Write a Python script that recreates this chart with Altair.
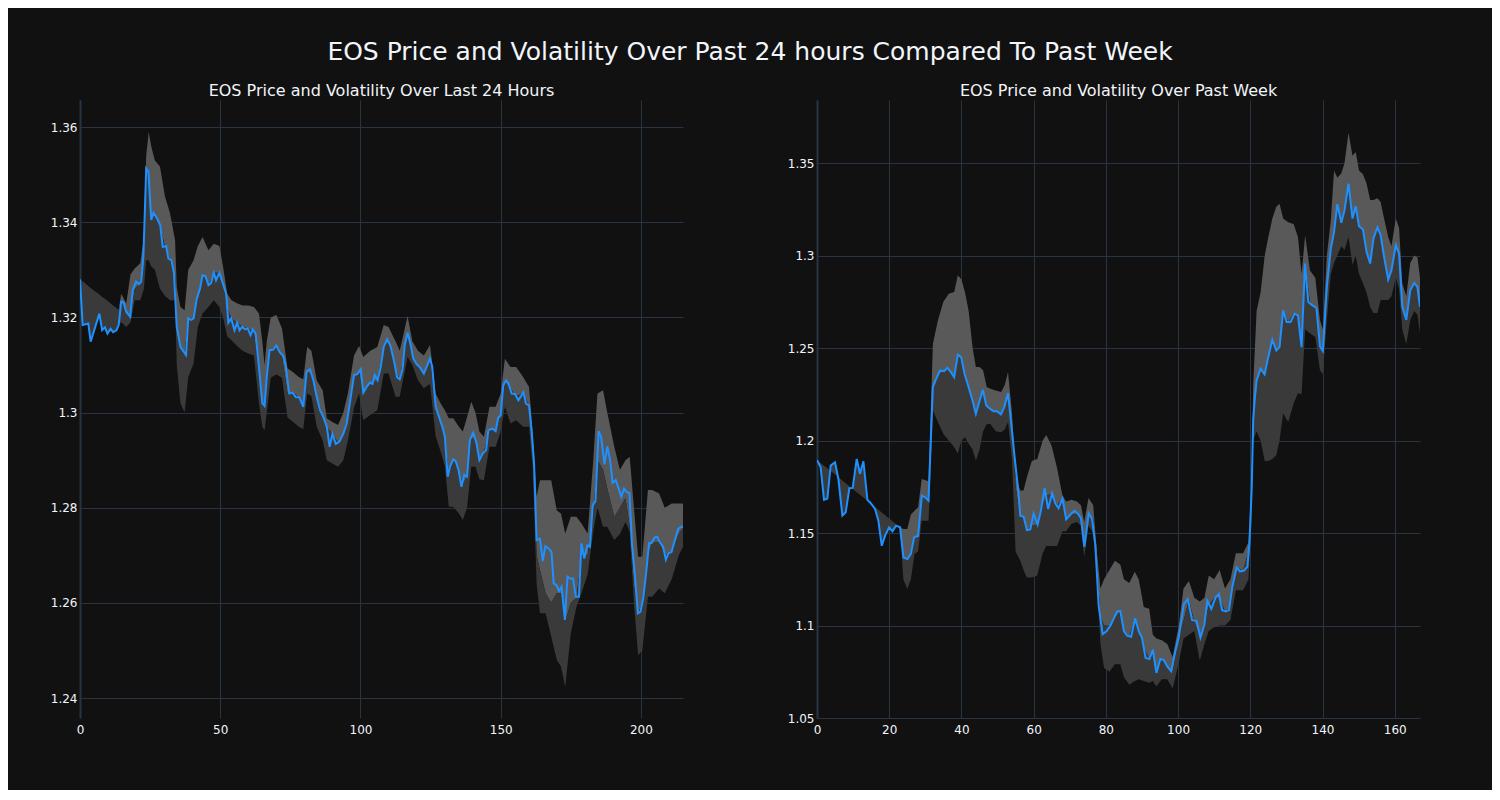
import altair as alt
import pandas as pd

MAIN_TITLE = "EOS Price and Volatility Over Past 24 hours Compared To Past Week"
LEFT_TITLE = "EOS Price and Volatility Over Last 24 Hours"
RIGHT_TITLE = "EOS Price and Volatility Over Past Week"

# ---------------- Left panel (last 24 hours) ----------------
L_PX = [0, 0.95, 2.97, 3.8, 6.9, 7.9, 8.9, 9.8, 10.9, 11.8, 13.0, 13.8, 14.7, 15.5, 16.5, 17.9, 18.8,
        20.0, 21.0, 21.8, 22.6, 23.6, 24.4, 25.4, 26.2, 27.4, 28.6, 29.5, 30.7, 31.5, 32.6, 33.5, 34.5,
        35.8, 37.8, 38.6, 39.6, 40.5, 41.6, 42.8, 43.7, 44.7, 45.8, 46.7, 47.7, 48.5, 49.7, 50.9, 52.1,
        52.9, 53.9, 55.1, 56.0, 56.9, 57.8, 58.9, 59.8, 60.8, 61.6, 62.6, 63.8, 65.0, 65.8, 66.6, 67.6,
        68.8, 70.0, 71.2, 72.5, 73.4, 74.6, 75.8, 77.0, 78.2, 79.6, 80.8, 82.0, 83.2, 84.4, 85.6, 86.8,
        88.0, 89.0, 90.0, 91.2, 92.5, 93.9, 95.1, 96.3, 97.7, 98.9, 100.1, 101.0, 102.2, 103.4, 104.3,
        105.1, 106.1, 107.2, 108.3, 109.5, 110.7, 111.9, 113.1, 114.0, 115.0, 115.8, 116.8, 117.9, 118.8,
        120.0, 121.2, 122.6, 123.5, 124.8, 125.6, 126.8, 128.0, 129.2, 130.1, 131.1, 131.9, 133.1, 134.0,
        135.1, 136.0, 137.0, 138.0, 139.0, 140.2, 141.4, 142.4, 143.6, 144.8, 145.6, 147.1, 148.2, 149.1,
        150.0, 150.9, 151.9, 152.7, 153.9, 155.1, 156.3, 157.2, 158.1, 159.0, 160.1, 161.0, 161.9, 162.8,
        164.0, 165.0, 165.9, 167.2, 168.1, 168.9, 169.9, 170.8, 171.7, 172.9, 173.8, 174.7, 175.8, 176.8,
        177.9, 178.8, 179.8, 180.9, 181.8, 182.8, 183.8, 184.9, 185.8, 187.0, 188.0, 189.0, 189.9, 191.0,
        192.1, 193.0, 194.0, 194.9, 195.9, 196.8, 197.7, 198.9, 199.8, 200.8, 201.9, 202.9, 203.8, 204.8,
        205.8, 206.7, 207.9, 208.9, 209.8, 210.9, 212.1, 213.3, 214.5, 215.0]
L_PY = [1.3280, 1.3184, 1.3187, 1.3149, 1.3208, 1.3173, 1.3179, 1.3166, 1.3176, 1.3169, 1.3173, 1.3184,
        1.3233, 1.3232, 1.3212, 1.3201, 1.3257, 1.3275, 1.3270, 1.3275, 1.3327, 1.3513, 1.3506, 1.3405,
        1.3420, 1.3409, 1.3394, 1.3348, 1.3350, 1.3324, 1.3320, 1.3293, 1.3180, 1.3138, 1.3121, 1.3198,
        1.3195, 1.3198, 1.3238, 1.3261, 1.3289, 1.3287, 1.3268, 1.3272, 1.3294, 1.3278, 1.3294, 1.3272,
        1.3250, 1.3189, 1.3198, 1.3173, 1.3189, 1.3173, 1.3180, 1.3175, 1.3177, 1.3163, 1.3175, 1.3166,
        1.3096, 1.3020, 1.3014, 1.3075, 1.3131, 1.3132, 1.3141, 1.3127, 1.3119, 1.3096, 1.3040, 1.3042,
        1.3032, 1.3032, 1.3012, 1.3086, 1.3091, 1.3068, 1.3033, 1.3005, 1.2990, 1.2970, 1.2928, 1.2955,
        1.2934, 1.2939, 1.2956, 1.2977, 1.3023, 1.3079, 1.3081, 1.3091, 1.3042, 1.3054, 1.3063, 1.3060,
        1.3079, 1.3068, 1.3095, 1.3138, 1.3154, 1.3140, 1.3110, 1.3074, 1.3070, 1.3091, 1.3142, 1.3168,
        1.3142, 1.3114, 1.3102, 1.3095, 1.3082, 1.3095, 1.3114, 1.3096, 1.3012, 1.2991, 1.2970, 1.2949,
        1.2865, 1.2886, 1.2902, 1.2897, 1.2876, 1.2844, 1.2869, 1.2865, 1.2942, 1.2958, 1.2935, 1.2900,
        1.2914, 1.2921, 1.2963, 1.2966, 1.2961, 1.2989, 1.2994, 1.3057, 1.3068, 1.3062, 1.3040, 1.3039,
        1.3026, 1.3034, 1.3043, 1.3019, 1.3015, 1.2963, 1.2893, 1.2732, 1.2735, 1.2688, 1.2719, 1.2714,
        1.2707, 1.2641, 1.2637, 1.2625, 1.2634, 1.2564, 1.2655, 1.2651, 1.2651, 1.2613, 1.2613, 1.2725,
        1.2693, 1.2721, 1.2718, 1.2805, 1.2814, 1.2961, 1.2949, 1.2891, 1.2929, 1.2900, 1.2852, 1.2858,
        1.2840, 1.2823, 1.2840, 1.2833, 1.2831, 1.2725, 1.2669, 1.2578, 1.2581, 1.2609, 1.2665, 1.2726,
        1.2726, 1.2737, 1.2739, 1.2728, 1.2718, 1.2691, 1.2704, 1.2707, 1.2732, 1.2756, 1.2760, 1.2758]

# band: x, upper edge, light/dark split, lower edge
L_BX = [0, 0.95, 2.97, 3.8, 6.9, 7.9, 8.9, 9.8, 10.9, 11.8, 13.0, 13.8,
        14.7, 16.5, 18.0, 19.5, 21.5, 22.8, 23.6, 24.5, 25.4, 26.7, 28.5, 30.3, 32.1, 33.9, 34.5,
        35.8, 37.3, 38.6, 40.5, 42.0, 43.7, 45.8, 47.7, 49.7, 51.0, 52.5, 54.0, 56.0, 58.0, 60.0,
        62.0, 63.8, 65.0, 65.8, 66.6, 68.0, 70.0, 72.0, 74.0, 76.0, 78.0, 79.6, 81.0, 82.5, 84.4,
        86.5, 88.0, 90.0, 92.0, 93.9, 95.5, 97.7, 99.5, 101.0, 103.5, 106.0, 108.3, 110.0, 112.5,
        114.0, 116.8, 118.5, 120.5, 122.6, 124.8, 126.8, 128.5, 130.1, 131.5, 133.1, 135.1, 136.5,
        138.0, 139.5, 141.0, 142.4, 144.0, 146.0, 148.2, 150.0, 151.5, 153.5, 155.5, 158.0, 160.1,
        161.5, 162.8, 164.0, 166.0, 168.0, 170.0, 171.5, 173.0, 175.0, 177.0, 178.8, 181.0, 183.0,
        184.5, 186.5, 188.0, 190.5, 192.5, 194.5, 196.0, 197.5, 199.0, 200.5, 202.5, 204.0, 206.5,
        208.5, 211.0, 213.5, 215.0]
L_BU = [1.3280, 1.3276, 1.3266, 1.3262, 1.3248, 1.3243, 1.3239, 1.3235, 1.3229, 1.3225, 1.3220, 1.3216,
        1.3250, 1.3229, 1.3290, 1.3303, 1.3314, 1.3370, 1.3540, 1.3590, 1.3560, 1.3530, 1.3517, 1.3454,
        1.3419, 1.3362, 1.3264, 1.3222, 1.3215, 1.3300, 1.3320, 1.3350, 1.3369, 1.3341, 1.3355, 1.3350,
        1.3307, 1.3250, 1.3236, 1.3230, 1.3225, 1.3225, 1.3222, 1.3208, 1.3150, 1.3100, 1.3150, 1.3200,
        1.3205, 1.3177, 1.3093, 1.3085, 1.3075, 1.3070, 1.3138, 1.3130, 1.3068, 1.3047, 1.2988, 1.2980,
        1.2974, 1.3000, 1.3040, 1.3120, 1.3140, 1.3117, 1.3130, 1.3138, 1.3184, 1.3180, 1.3150, 1.3130,
        1.3203, 1.3150, 1.3130, 1.3120, 1.3142, 1.3040, 1.3020, 1.3005, 1.2988, 1.2988, 1.2970, 1.2960,
        1.2990, 1.3023, 1.3000, 1.2960, 1.2949, 1.3012, 1.3012, 1.3040, 1.3113, 1.3096, 1.3096, 1.3075,
        1.3054, 1.2950, 1.2823, 1.2858, 1.2858, 1.2858, 1.2794, 1.2788, 1.2746, 1.2781, 1.2781, 1.2767,
        1.2746, 1.2900, 1.3040, 1.3047, 1.3000, 1.2928, 1.2880, 1.2900, 1.2907, 1.2800, 1.2697, 1.2697,
        1.2837, 1.2837, 1.2830, 1.2800, 1.2809, 1.2809, 1.2809]
L_BM = [1.3280, 1.3276, 1.3266, 1.3262, 1.3248, 1.3243, 1.3239, 1.3235, 1.3229, 1.3225, 1.3220, 1.3216,
        1.3233, 1.3212, 1.3201, 1.3260, 1.3272, 1.3340, 1.3513, 1.3506, 1.3405, 1.3415, 1.3394, 1.3349,
        1.3322, 1.3290, 1.3180, 1.3138, 1.3125, 1.3198, 1.3198, 1.3245, 1.3289, 1.3268, 1.3294, 1.3294,
        1.3272, 1.3220, 1.3198, 1.3189, 1.3180, 1.3177, 1.3170, 1.3096, 1.3020, 1.3014, 1.3075, 1.3131,
        1.3141, 1.3119, 1.3040, 1.3042, 1.3032, 1.3012, 1.3086, 1.3080, 1.3033, 1.2995, 1.2970, 1.2955,
        1.2937, 1.2956, 1.2990, 1.3079, 1.3085, 1.3042, 1.3063, 1.3068, 1.3138, 1.3150, 1.3090, 1.3070,
        1.3168, 1.3120, 1.3098, 1.3082, 1.3114, 1.3012, 1.2980, 1.2949, 1.2870, 1.2902, 1.2876, 1.2850,
        1.2865, 1.2945, 1.2945, 1.2900, 1.2917, 1.2963, 1.2961, 1.2994, 1.3065, 1.3050, 1.3035, 1.3040,
        1.3015, 1.2930, 1.2700, 1.2669, 1.2620, 1.2600, 1.2620, 1.2620, 1.2560, 1.2600, 1.2610, 1.2700,
        1.2700, 1.2790, 1.2900, 1.2880, 1.2840, 1.2780, 1.2800, 1.2820, 1.2760, 1.2640, 1.2578, 1.2600,
        1.2700, 1.2726, 1.2728, 1.2700, 1.2707, 1.2745, 1.2758]
L_BL = [1.3280, 1.3184, 1.3187, 1.3149, 1.3208, 1.3173, 1.3179, 1.3166, 1.3176, 1.3169, 1.3173, 1.3184,
        1.3190, 1.3180, 1.3190, 1.3236, 1.3236, 1.3260, 1.3320, 1.3320, 1.3307, 1.3300, 1.3260, 1.3245,
        1.3236, 1.3236, 1.3100, 1.3020, 1.3000, 1.3075, 1.3103, 1.3180, 1.3208, 1.3222, 1.3236, 1.3222,
        1.3200, 1.3160, 1.3152, 1.3140, 1.3130, 1.3124, 1.3120, 1.3020, 1.2970, 1.2963, 1.3000, 1.3073,
        1.3080, 1.3073, 1.2989, 1.2980, 1.2970, 1.2965, 1.3040, 1.3035, 1.2970, 1.2942, 1.2900, 1.2893,
        1.2886, 1.2900, 1.2940, 1.3010, 1.3040, 1.2984, 1.2995, 1.3005, 1.3082, 1.3082, 1.3033, 1.3033,
        1.3117, 1.3100, 1.3068, 1.3051, 1.3060, 1.2950, 1.2920, 1.2886, 1.2802, 1.2802, 1.2788, 1.2774,
        1.2800, 1.2886, 1.2886, 1.2860, 1.2858, 1.2928, 1.2928, 1.2960, 1.3012, 1.2977, 1.2984, 1.2970,
        1.2970, 1.2880, 1.2640, 1.2578, 1.2578, 1.2530, 1.2480, 1.2466, 1.2423, 1.2536, 1.2592, 1.2620,
        1.2660, 1.2750, 1.2800, 1.2760, 1.2760, 1.2732, 1.2745, 1.2770, 1.2750, 1.2600, 1.2490, 1.2500,
        1.2613, 1.2613, 1.2630, 1.2620, 1.2650, 1.2700, 1.2718]

# ---------------- Right panel (past week) ----------------
R_PX = [0, 1.0, 1.94, 2.87, 3.79, 4.99, 5.92, 7.03, 7.95, 8.97, 9.89, 11.0, 11.9, 12.85, 13.96, 14.88,
        16.08, 17.0, 17.93, 18.86, 19.97, 20.89, 21.9, 23.0, 23.94, 25.05, 25.98, 26.9, 28.0, 29.03,
        29.95, 30.88, 32.08, 33.0, 34.1, 35.22, 36.14, 37.07, 37.99, 39.0, 39.93, 40.86, 41.97, 43.08,
        44.0, 44.93, 45.94, 46.87, 47.98, 48.9, 49.83, 50.93, 51.86, 52.88, 53.8, 54.73, 55.65, 56.3,
        57.22, 58.14, 59.07, 60.0, 61.1, 62.0, 63.05, 64.0, 65.1, 66.0, 66.9, 68.0, 69.0, 70.2, 71.3,
        72.2, 73.1, 74.05, 75.25, 76.2, 77.1, 78.0, 79.1, 80.15, 81.25, 82.2, 83.1, 84.0, 85.0, 85.9,
        87.0, 88.1, 89.1, 90.0, 91.0, 92.07, 93.0, 94.0, 95.1, 96.05, 97.0, 98.1, 99.1, 100.2, 100.67,
        101.6, 102.7, 103.9, 105.1, 106.2, 107.3, 108.1, 109.2, 110.4, 111.3, 112.2, 113.2, 114.1,
        115.0, 116.2, 117.1, 118.2, 119.2, 119.8, 120.4, 120.8, 121.2, 121.75, 122.85, 123.96, 124.98,
        126.09, 127.2, 128.1, 129.1, 130.06, 131.17, 132.28, 133.2, 134.2, 135.15, 136.07, 137.2,
        138.3, 139.3, 140.1, 141.2, 142.3, 143.2, 144.1, 145.2, 146.1, 147.2, 148.3, 149.2, 150.1,
        151.2, 152.2, 153.2, 154.1, 155.2, 156.1, 157.05, 158.2, 159.1, 160.3, 161.2, 162.1, 163.2,
        164.3, 165.4, 166.3, 167.0]
R_PY = [1.1895, 1.1856, 1.1679, 1.1686, 1.1865, 1.1883, 1.1792, 1.1594, 1.1612, 1.1742, 1.1744, 1.1901,
        1.1820, 1.1888, 1.1679, 1.1661, 1.1630, 1.1567, 1.1431, 1.1486, 1.1531, 1.1509, 1.1540, 1.1531,
        1.1368, 1.1359, 1.1386, 1.1477, 1.1484, 1.1702, 1.1693, 1.1675, 1.2289, 1.2334, 1.2379, 1.2375,
        1.2393, 1.2370, 1.2343, 1.2464, 1.2451, 1.2361, 1.2289, 1.2217, 1.2144, 1.2208, 1.2275, 1.2190,
        1.2171, 1.2159, 1.2159, 1.2141, 1.2181, 1.2256, 1.2090, 1.1910, 1.1747, 1.1594, 1.1588, 1.1516,
        1.1520, 1.1605, 1.1546, 1.1620, 1.1744, 1.1630, 1.1714, 1.1660, 1.1634, 1.1686, 1.1574, 1.1600,
        1.1620, 1.1606, 1.1580, 1.1425, 1.1606, 1.1574, 1.1430, 1.1109, 1.0953, 1.0969, 1.0999, 1.1039,
        1.1075, 1.1079, 1.0969, 1.0945, 1.0939, 1.1039, 1.0969, 1.0933, 1.0825, 1.0819, 1.0869, 1.0744,
        1.0819, 1.0813, 1.0779, 1.0753, 1.0849, 1.0939, 1.0998, 1.1116, 1.1143, 1.1029, 1.1025, 1.0935,
        1.1007, 1.1134, 1.1089, 1.1152, 1.1170, 1.1083, 1.1076, 1.1083, 1.1206, 1.1314, 1.1293, 1.1296,
        1.1318, 1.1459, 1.1747, 1.2108, 1.2217, 1.2325, 1.2388, 1.2358, 1.2451, 1.2545, 1.2487, 1.2505,
        1.2704, 1.2641, 1.2641, 1.2686, 1.2677, 1.2505, 1.2957, 1.2749, 1.2731, 1.2718, 1.2509, 1.2484,
        1.2830, 1.3038, 1.3128, 1.3278, 1.3177, 1.3245, 1.3389, 1.3200, 1.3267, 1.3159, 1.3141, 1.3020,
        1.2957, 1.3092, 1.3152, 1.3110, 1.2993, 1.2870, 1.2921, 1.3056, 1.3011, 1.2722, 1.2653, 1.2812,
        1.2852, 1.2830, 1.2722]

R_BX = [0, 1.0, 1.94, 2.87, 3.79, 4.99, 5.92, 7.03, 7.95, 8.97, 9.89, 11.0, 11.9, 12.85, 13.96, 14.88,
        16.08, 17.0, 17.93, 18.86, 19.97, 20.89, 21.9, 23.0,
        23.9, 25.0, 26.0, 27.0, 28.0, 29.0, 30.9, 32.1, 33.5, 35.0, 36.5, 38.0, 39.0, 40.0, 41.0, 42.0,
        43.1, 44.0, 45.0, 46.0, 47.0, 48.0, 49.5, 51.0, 52.0, 52.9, 54.0, 55.0, 56.3, 57.2, 58.1, 59.5,
        61.0, 62.5, 63.5, 65.0, 66.5, 68.0, 69.0, 70.5, 72.0, 73.1, 74.0, 75.2, 76.5, 77.5, 78.5, 79.5,
        81.0, 82.5, 84.0, 85.0, 86.5, 88.0, 89.1, 90.5, 92.0, 93.0, 94.0, 95.5, 97.0, 98.5, 100.2, 101.5,
        103.0, 104.5, 106.0, 107.3, 108.5, 110.0, 111.5, 113.0, 114.5, 116.0, 118.0, 119.5, 120.4, 120.8,
        121.75, 122.85, 124.0, 125.0, 126.1, 127.2, 128.1, 129.1, 130.5, 132.0, 133.2, 134.2, 135.2,
        136.5, 138.0, 139.3, 140.1, 141.2, 142.3, 143.2, 144.1, 145.2, 146.1, 147.2, 148.3, 149.2,
        150.1, 151.2, 152.2, 153.2, 154.1, 155.2, 156.1, 157.05, 158.2, 159.1, 160.3, 161.2, 162.1,
        163.2, 164.3, 165.4, 166.3, 167.0]
R_BU = [1.1895, 1.1879, 1.1864, 1.1850, 1.1835, 1.1816, 1.1801, 1.1784, 1.1769, 1.1753, 1.1738, 1.1721,
        1.1707, 1.1692, 1.1674, 1.1659, 1.1640, 1.1626, 1.1611, 1.1596, 1.1579, 1.1564, 1.1548, 1.1531,
        1.1522, 1.1522, 1.1600, 1.1621, 1.1640, 1.1792, 1.1780, 1.2523, 1.2650, 1.2750, 1.2794, 1.2803,
        1.2893, 1.2870, 1.2800, 1.2700, 1.2500, 1.2397, 1.2397, 1.2380, 1.2290, 1.2280, 1.2270, 1.2262,
        1.2300, 1.2370, 1.2150, 1.1800, 1.1730, 1.1730, 1.1800, 1.1890, 1.1900, 1.2000, 1.2030, 1.1970,
        1.1850, 1.1700, 1.1670, 1.1680, 1.1670, 1.1650, 1.1560, 1.1690, 1.1650, 1.1400, 1.1200, 1.1250,
        1.1300, 1.1350, 1.1330, 1.1250, 1.1230, 1.1290, 1.1250, 1.1100, 1.1090, 1.0950, 1.0930, 1.0920,
        1.0900, 1.0830, 1.1000, 1.1200, 1.1240, 1.1150, 1.1130, 1.1150, 1.1270, 1.1250, 1.1300, 1.1200,
        1.1250, 1.1390, 1.1390, 1.1450, 1.1800, 1.2300, 1.2700, 1.2800, 1.3000, 1.3100, 1.3200, 1.3264,
        1.3280, 1.3200, 1.3180, 1.3170, 1.3100, 1.2900, 1.3110, 1.2920, 1.2880, 1.2650, 1.2600, 1.3000,
        1.3190, 1.3460, 1.3420, 1.3444, 1.3500, 1.3664, 1.3540, 1.3560, 1.3460, 1.3440, 1.3390, 1.3300,
        1.3300, 1.3310, 1.3290, 1.3200, 1.3100, 1.3050, 1.3200, 1.3150, 1.2850, 1.2780, 1.2960, 1.3000,
        1.2990, 1.2880]
R_BM = [1.1895, 1.1879, 1.1864, 1.1850, 1.1835, 1.1816, 1.1801, 1.1784, 1.1769, 1.1753, 1.1738, 1.1721,
        1.1707, 1.1692, 1.1674, 1.1659, 1.1640, 1.1626, 1.1611, 1.1596, 1.1579, 1.1564, 1.1548, 1.1531,
        1.1368, 1.1359, 1.1386, 1.1477, 1.1484, 1.1702, 1.1675, 1.2289, 1.2350, 1.2378, 1.2385, 1.2343,
        1.2464, 1.2451, 1.2361, 1.2289, 1.2217, 1.2144, 1.2208, 1.2275, 1.2190, 1.2171, 1.2159, 1.2141,
        1.2181, 1.2256, 1.2090, 1.1750, 1.1594, 1.1588, 1.1516, 1.1540, 1.1546, 1.1650, 1.1700, 1.1714,
        1.1650, 1.1686, 1.1574, 1.1600, 1.1606, 1.1580, 1.1425, 1.1606, 1.1574, 1.1350, 1.1050, 1.1000,
        1.0999, 1.1039, 1.1079, 1.0969, 1.0940, 1.1039, 1.0969, 1.0880, 1.0819, 1.0869, 1.0744, 1.0819,
        1.0779, 1.0753, 1.0939, 1.1025, 1.1139, 1.1019, 1.0939, 1.1007, 1.1110, 1.1149, 1.1150, 1.1076,
        1.1100, 1.1314, 1.1296, 1.1400, 1.1747, 1.2108, 1.2325, 1.2388, 1.2358, 1.2451, 1.2545, 1.2487,
        1.2505, 1.2704, 1.2641, 1.2686, 1.2677, 1.2505, 1.2957, 1.2749, 1.2718, 1.2509, 1.2484, 1.2830,
        1.3038, 1.3128, 1.3278, 1.3177, 1.3245, 1.3389, 1.3200, 1.3267, 1.3159, 1.3141, 1.3020, 1.2957,
        1.3092, 1.3152, 1.3110, 1.2993, 1.2870, 1.2921, 1.3056, 1.3011, 1.2722, 1.2653, 1.2812, 1.2852,
        1.2830, 1.2722]
R_BL = [1.1895, 1.1856, 1.1679, 1.1686, 1.1865, 1.1883, 1.1792, 1.1594, 1.1612, 1.1742, 1.1744, 1.1901,
        1.1820, 1.1888, 1.1679, 1.1661, 1.1630, 1.1567, 1.1431, 1.1486, 1.1531, 1.1509, 1.1540, 1.1531,
        1.1250, 1.1197, 1.1250, 1.1386, 1.1400, 1.1567, 1.1567, 1.2162, 1.2100, 1.2036, 1.2000, 1.1964,
        1.1930, 1.2000, 1.2018, 1.1982, 1.1950, 1.1892, 1.1950, 1.2050, 1.2090, 1.2090, 1.2050, 1.2045,
        1.2060, 1.2100, 1.1900, 1.1400, 1.1350, 1.1300, 1.1260, 1.1260, 1.1270, 1.1390, 1.1430, 1.1430,
        1.1430, 1.1510, 1.1510, 1.1550, 1.1560, 1.1540, 1.1370, 1.1540, 1.1500, 1.1250, 1.0900, 1.0770,
        1.0750, 1.0790, 1.0790, 1.0720, 1.0680, 1.0700, 1.0710, 1.0700, 1.0690, 1.0700, 1.0670, 1.0710,
        1.0710, 1.0660, 1.0800, 1.0930, 1.0950, 1.0970, 1.0810, 1.0900, 1.0970, 1.0990, 1.1000, 1.1000,
        1.1030, 1.1190, 1.1190, 1.1250, 1.1600, 1.2000, 1.2050, 1.2000, 1.1890, 1.1890, 1.1900, 1.1920,
        1.2000, 1.2146, 1.2100, 1.2200, 1.2255, 1.2250, 1.2600, 1.2580, 1.2560, 1.2380, 1.2360, 1.2650,
        1.2900, 1.2960, 1.3000, 1.3050, 1.3030, 1.3100, 1.2950, 1.3000, 1.2900, 1.2850, 1.2800, 1.2720,
        1.2690, 1.2690, 1.2760, 1.2760, 1.2760, 1.2780, 1.2880, 1.2820, 1.2600, 1.2520, 1.2650, 1.2700,
        1.2680, 1.2580]

L_XTICKS = [0, 50, 100, 150, 200]
L_YTICKS = [1.24, 1.26, 1.28, 1.30, 1.32, 1.34, 1.36]
R_XTICKS = [0, 20, 40, 60, 80, 100, 120, 140, 160]
R_YTICKS = [1.05, 1.10, 1.15, 1.20, 1.25, 1.30, 1.35]

BG = "#111111"
GRID = "#283442"
TXT = "#f2f5fa"
FONT = "DejaVu Sans"


def panel(title, px, py, bx, bu, bm, bl, xdom, ydom, xticks, yticks):
    price = pd.DataFrame({"x": px, "y": py})
    band = pd.DataFrame({"x": bx, "u": bu, "m": bm, "l": bl})
    xs = alt.Scale(domain=xdom, nice=False, zero=False)
    ys = alt.Scale(domain=ydom, nice=False, zero=False)
    xax = alt.Axis(values=xticks, format="d", title=None, grid=True, gridColor=GRID, gridWidth=1,
                   domain=False, ticks=False, labelPadding=6, labelColor=TXT, labelFontSize=12,
                   labelFont=FONT, labelFlush=False)
    yax = alt.Axis(values=yticks, format=".2~f", title=None, grid=True, gridColor=GRID, gridWidth=1,
                   domain=True, domainColor=GRID, domainWidth=2, ticks=False, labelPadding=3,
                   labelColor=TXT, labelFontSize=12, labelFont=FONT, minExtent=40, maxExtent=40,
                   labelFlush=False)
    light = alt.Chart(band).mark_area(color="#595959", opacity=1, clip=True).encode(
        x=alt.X("x:Q", scale=xs, axis=xax),
        y=alt.Y("u:Q", scale=ys, axis=yax),
        y2="m:Q",
    )
    dark = alt.Chart(band).mark_area(color="#3a3a3a", opacity=1, clip=True).encode(
        x="x:Q", y="m:Q", y2="l:Q"
    )
    line = alt.Chart(price).mark_line(color="#1E90FF", strokeWidth=2, clip=True).encode(
        x="x:Q", y="y:Q"
    )
    return alt.layer(light, dark, line).properties(
        width=603, height=618,
        title=alt.Title(title, fontSize=16, color=TXT, font=FONT, fontWeight="normal",
                        anchor="middle", offset=1),
    )


left = panel(LEFT_TITLE, L_PX, L_PY, L_BX, L_BU, L_BM, L_BL, [0, 215], [1.2358, 1.3657],
             L_XTICKS, L_YTICKS)
right = panel(RIGHT_TITLE, R_PX, R_PY, R_BX, R_BU, R_BM, R_BL, [0, 167], [1.05, 1.3841],
              R_XTICKS, R_YTICKS)

chart = alt.hconcat(left, right, spacing=94).properties(
    title=alt.Title(MAIN_TITLE, fontSize=25, color=TXT, font=FONT, fontWeight="normal",
                    anchor="middle", offset=18, dx=20),
    padding={"left": 32, "top": 32, "right": 72, "bottom": 55},
    background=BG,
).configure_view(stroke=None).configure_concat(spacing=94)

chart.save("out.html", embed_options={"renderer": "svg", "actions": False})
